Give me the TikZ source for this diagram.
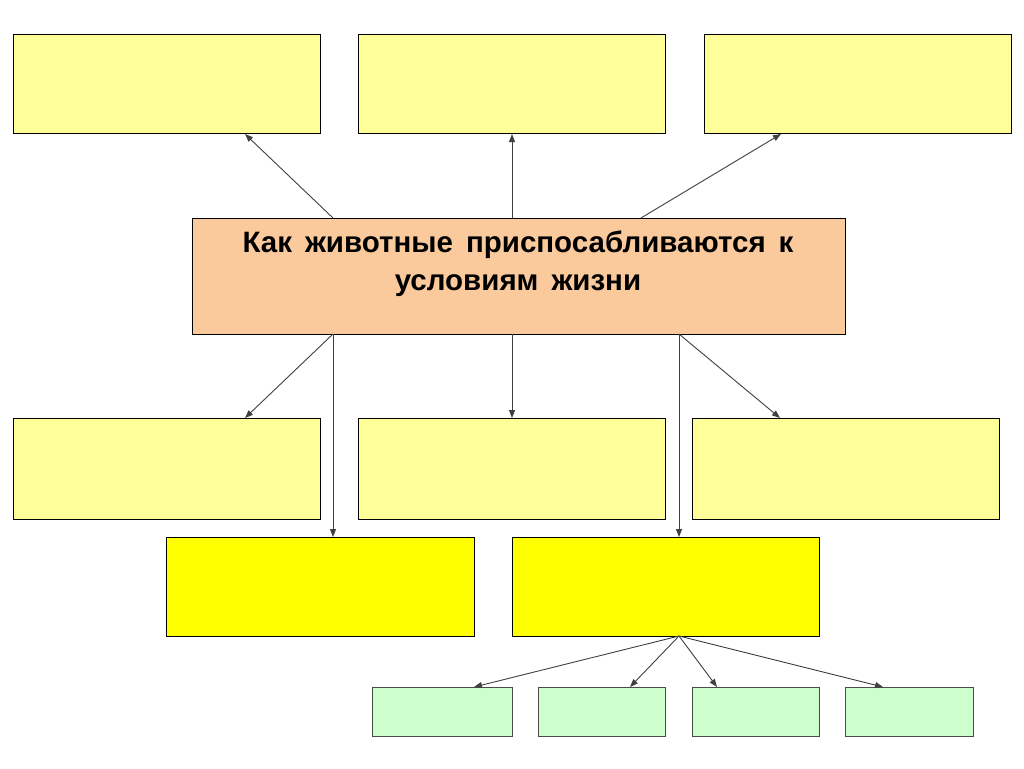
\documentclass[tikz,border=0pt]{standalone}
\usepackage{fontspec}
\setmainfont{Liberation Sans}
\usetikzlibrary{arrows.meta}
\definecolor{lyel}{HTML}{FFFF99}
\definecolor{peach}{HTML}{FACA9C}
\definecolor{yel}{HTML}{FFFF00}
\definecolor{lgreen}{HTML}{CCFFCC}
\begin{document}
\begin{tikzpicture}[x=1pt,y=-1pt,
  box/.style={draw=black,line width=0.9pt,fill=#1},
  arr/.style={draw=black!75,line width=0.9pt,-{Triangle[length=8pt,width=6pt]}}]
\useasboundingbox (0,0) rectangle (1024,768);
\fill[white] (0,0) rectangle (1024,768);
% top row
\draw[box=lyel] (13,34) rectangle (320,133);
\draw[box=lyel] (358,34) rectangle (665,133);
\draw[box=lyel] (704,34) rectangle (1011,133);
% center
\draw[box=peach] (192,218) rectangle (845,334);
\node[font=\bfseries\fontsize{29.5}{38}\selectfont,align=center] (c) at (518,264)
  {\spaceskip=13pt Как животные приспосабливаются к\\\spaceskip=13pt условиям жизни};
% middle row
\draw[box=lyel] (13,418) rectangle (320,519);
\draw[box=lyel] (358,418) rectangle (665,519);
\draw[box=lyel] (692,418) rectangle (999,519);
% yellow
\draw[box=yel] (166,537) rectangle (474,636);
\draw[box=yel] (512,537) rectangle (819,636);
% green
\draw[box=lgreen,draw=black!70] (372,687) rectangle (512,736);
\draw[box=lgreen,draw=black!70] (538,687) rectangle (665,736);
\draw[box=lgreen,draw=black!70] (692,687) rectangle (819,736);
\draw[box=lgreen,draw=black!70] (845,687) rectangle (973,736);
% coordinates
\coordinate (a1) at (333,218); \coordinate (a2) at (512,218); \coordinate (a3) at (641,218);
\coordinate (b1) at (245,134); \coordinate (b2) at (512,134); \coordinate (b3) at (781,134);
\coordinate (d1) at (333,334); \coordinate (d2) at (512,334); \coordinate (d3) at (679,334);
\coordinate (e1) at (245,418); \coordinate (e2) at (512,418); \coordinate (e3) at (780,418);
\coordinate (f1) at (333,537); \coordinate (f2) at (679,537);
\coordinate (g) at (679,636);
\coordinate (h1) at (474,687); \coordinate (h2) at (630,687); \coordinate (h3) at (717,687); \coordinate (h4) at (883,687);
\draw[arr] (a1) -- (b1);
\draw[arr] (a2) -- (b2);
\draw[arr] (a3) -- (b3);
\draw[arr] (d1) -- (e1);
\draw[arr] (d2) -- (e2);
\draw[arr] (d3) -- (e3);
\draw[arr] (d1) -- (f1);
\draw[arr] (d3) -- (f2);
\draw[arr] (g) -- (h1);
\draw[arr] (g) -- (h2);
\draw[arr] (g) -- (h3);
\draw[arr] (g) -- (h4);
\end{tikzpicture}
\end{document}
